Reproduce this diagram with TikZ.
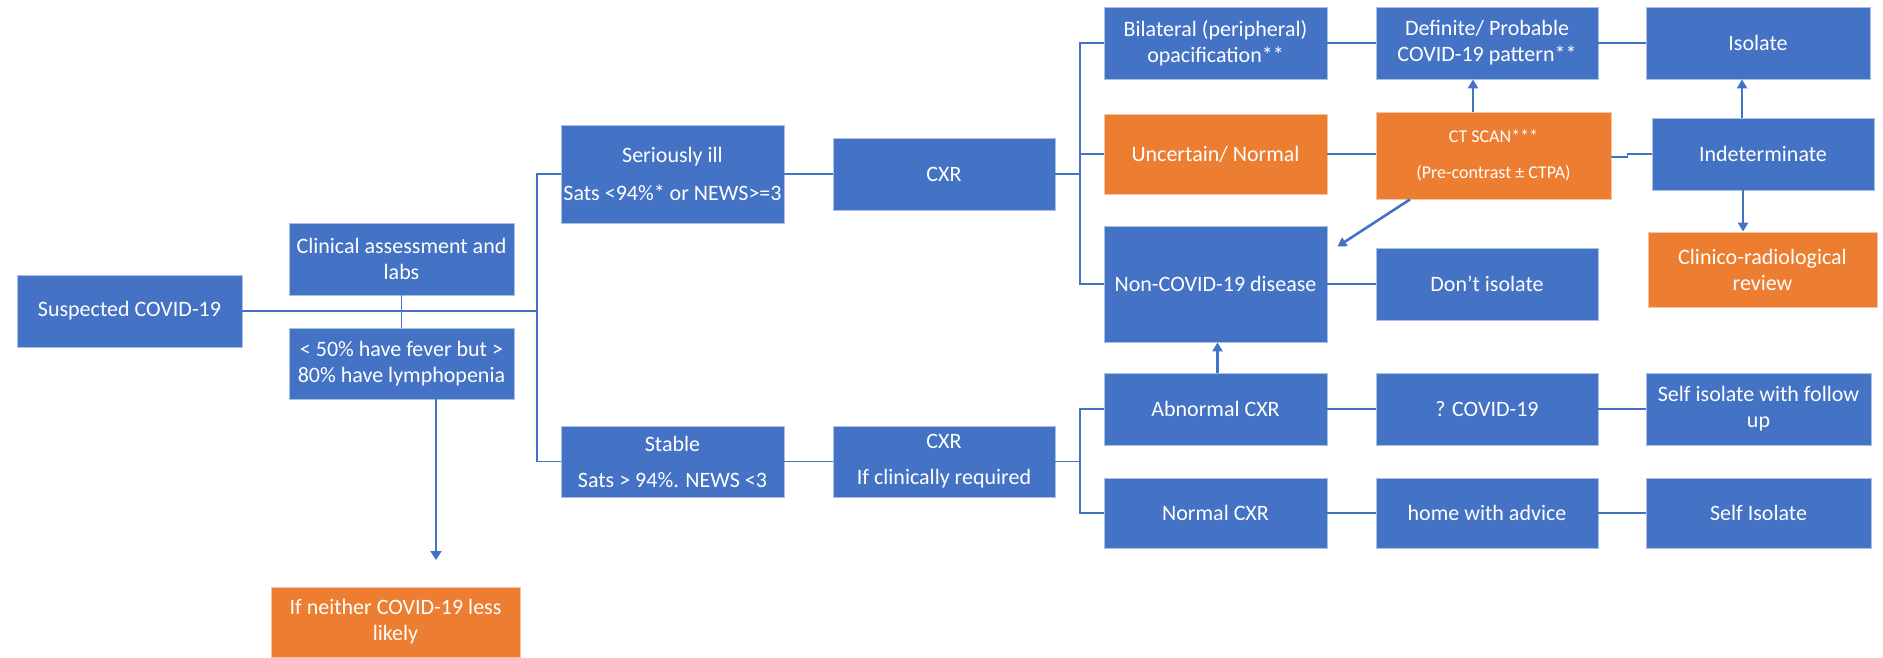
\documentclass[tikz,border=0pt]{standalone}
\usepackage{fontspec}
\setmainfont{Carlito}
\usetikzlibrary{arrows.meta}
\definecolor{boxblue}{HTML}{4472C4}
\definecolor{boxorange}{HTML}{ED7D31}
\definecolor{lineblue}{HTML}{4472C4}
\definecolor{edgeblue}{HTML}{A9BFE6}
\definecolor{edgeorange}{HTML}{F6C4A2}
\tikzset{
  bx/.style={fill=boxblue, draw=edgeblue, line width=0.8pt, text=white, align=center,
             inner sep=0pt, font=\fontsize{22}{26}\selectfont},
  ob/.style={bx, fill=boxorange, draw=edgeorange},
  ln/.style={draw=lineblue, line width=1.8pt},
  arr/.style={draw=lineblue, line width=2.6pt, -{Triangle[width=10pt,length=9pt]}},
  thinarr/.style={draw=lineblue, line width=2pt, -{Triangle[width=11pt,length=9pt]}},
}
\begin{document}
\begin{tikzpicture}[x=1pt,y=-1pt]
\useasboundingbox (0,0) rectangle (1883,657);
% left part
\node[bx, minimum width=225pt, minimum height=72pt] (sus) at (129.5,311) {Suspected COVID-19};
\node[bx, minimum width=225pt, minimum height=72pt] (clin) at (401.5,259) {Clinical assessment and\\labs};
\node[bx, minimum width=225pt, minimum height=71pt] (fev) at (401.5,363.5) {< 50\% have fever but >\\80\% have lymphopenia};
\node[ob, minimum width=249pt, minimum height=70pt] (nei) at (395.5,622) {If neither COVID-19 less\\likely};
% second column
\node[bx, minimum width=223pt, minimum height=98pt] (ser) at (672.5,174) {Seriously ill\\[12pt]Sats <94\%* or NEWS>=3};
\node[bx, minimum width=223pt, minimum height=71pt] (stab) at (672.5,461.5) {Stable\\[10pt]Sats > 94\%. NEWS <3};
\node[bx, minimum width=222pt, minimum height=72pt] (cxr1) at (944,174) {CXR};
\node[bx, minimum width=222pt, minimum height=71pt] (cxr2) at (944,461.5) {CXR\\[10pt]If clinically required};
% CXR results column
\node[bx, minimum width=223pt, minimum height=72pt] (bil) at (1215.5,43) {Bilateral (peripheral)\\opacification**};
\node[ob, minimum width=223pt, minimum height=80pt] (unc) at (1215.5,154) {Uncertain/ Normal};
\node[bx, minimum width=223pt, minimum height=116pt] (nonc) at (1215.5,284) {Non-COVID-19 disease};
\node[bx, minimum width=223pt, minimum height=72pt] (abn) at (1215.5,409) {Abnormal CXR};
\node[bx, minimum width=223pt, minimum height=70pt] (ncxr) at (1215.5,513) {Normal CXR};
% fourth column
\node[bx, minimum width=222pt, minimum height=72pt] (def) at (1487,43) {Definite/ Probable\\COVID-19 pattern**};
\node[ob, minimum width=235pt, minimum height=87pt, font=\fontsize{18}{22}\selectfont] (ct) at (1493.5,155.5) {CT SCAN***\\[14pt](Pre-contrast ± CTPA)};
\node[bx, minimum width=222pt, minimum height=72pt] (dont) at (1487,284) {Don't isolate};
\node[bx, minimum width=222pt, minimum height=72pt] (qc) at (1487,409) {? COVID-19};
\node[bx, minimum width=222pt, minimum height=70pt] (home) at (1487,513) {home with advice};
% fifth column
\node[bx, minimum width=224pt, minimum height=72pt] (iso) at (1758,43) {Isolate};
\node[bx, minimum width=222pt, minimum height=72pt] (ind) at (1763,154) {Indeterminate};
\node[ob, minimum width=229pt, minimum height=75pt] (clr) at (1762.5,269.5) {Clinico-radiological\\review};
\node[bx, minimum width=225pt, minimum height=72pt] (sif) at (1758.5,409) {Self isolate with follow\\up};
\node[bx, minimum width=225pt, minimum height=70pt] (si) at (1758.5,513) {Self Isolate};
% trunks
\coordinate (tA) at (537,311);
\coordinate (tB) at (1080,0);
\coordinate (nq) at (436,560);
% connectors
\draw[ln] (sus.east) -- (tA);
\draw[ln] (ser.west) -- (ser.west -| tA) -- (stab.west -| tA) -- (stab.west);
\draw[ln] (clin.south) -- (fev.north);
\draw[thinarr] (fev.south -| nq) -- (nq);
\draw[ln] (ser) -- (cxr1);
\draw[ln] (stab) -- (cxr2);
\draw[ln] (cxr1.east) -- (cxr1.east -| tB);
\draw[ln] (bil.west) -- (bil.west -| tB) -- (nonc.west -| tB) -- (nonc.west);
\draw[ln] (unc.west) -- (unc.west -| tB);
\draw[ln] (cxr2.east) -- (cxr2.east -| tB);
\draw[ln] (abn.west) -- (abn.west -| tB) -- (ncxr.west -| tB) -- (ncxr.west);
\draw[ln] (bil) -- (def);
\draw[ln] (def) -- (iso);
\draw[ln] (unc.east) -- (unc.east -| ct.west);
\draw[ln] ([yshift=-1.5pt]ct.east) -- ++(16,0) |- (ind.west);
\draw[ln] (nonc.east) -- (nonc.east -| dont.west);
\draw[ln] (abn) -- (qc);
\draw[ln] (qc) -- (sif);
\draw[ln] (ncxr) -- (home);
\draw[ln] (home) -- (si);
% arrows
\draw[arr] ([xshift=-20.5pt]ct.north) -- ([xshift=-20.5pt]ct.north |- def.south);
\draw[arr] ([xshift=-83.5pt]ct.south) -- ([xshift=10pt,yshift=-21pt]nonc.north east);
\draw[arr] ([xshift=-21pt]ind.north) -- ([xshift=-21pt]ind.north |- iso.south);
\draw[arr] ([xshift=-20pt]ind.south) -- ([xshift=-20pt]ind.south |- clr.north);
\draw[arr] ([xshift=2pt]abn.north) -- ([xshift=2pt]abn.north |- nonc.south);
\end{tikzpicture}
\end{document}
